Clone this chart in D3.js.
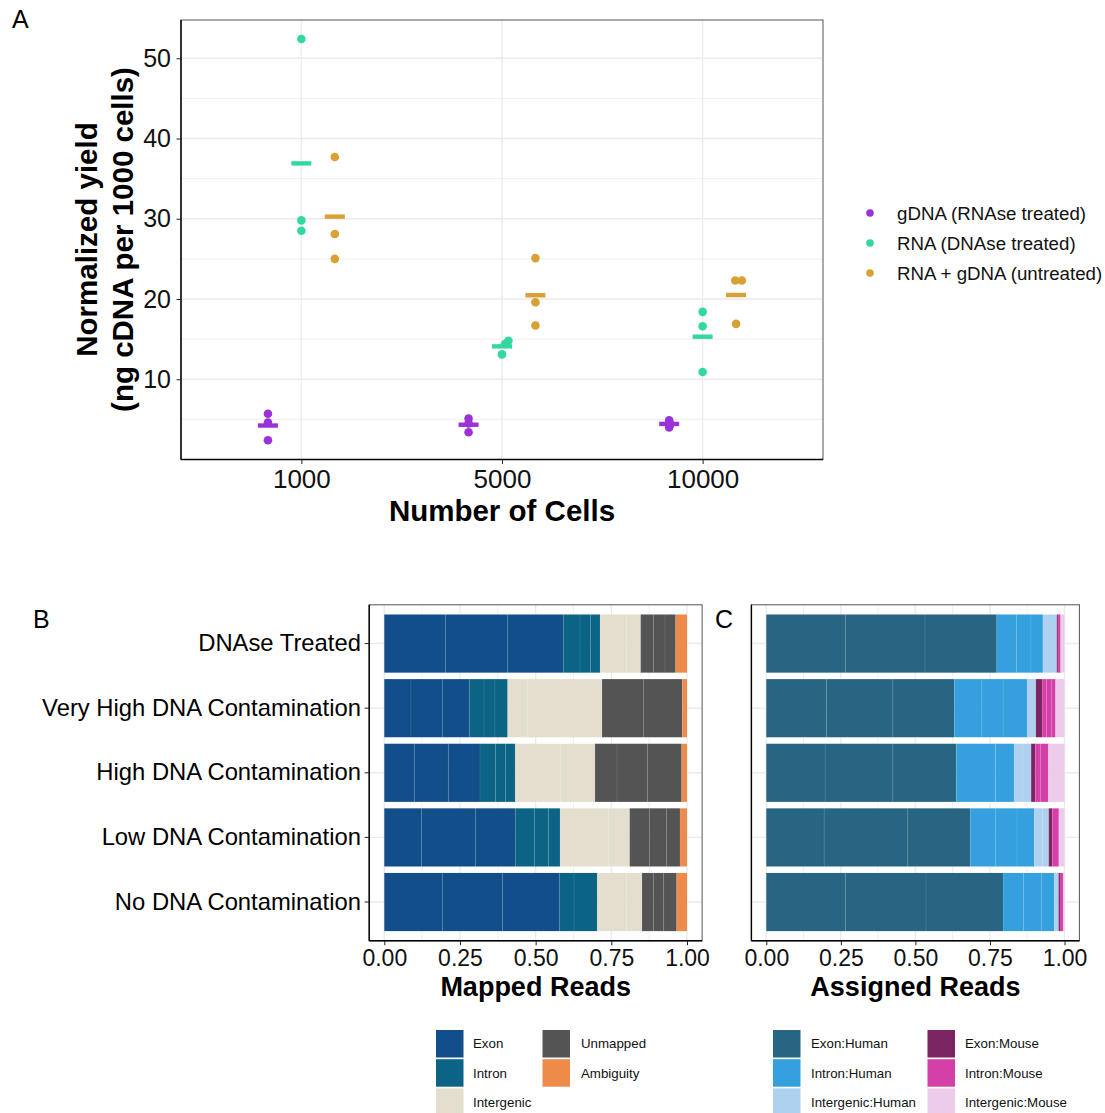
<!DOCTYPE html>
<html><head><meta charset="utf-8">
<script src="https://cdn.jsdelivr.net/npm/d3@7"></script>
<style>body{margin:0;background:#fff}svg{display:block}text{font-family:"Liberation Sans",Arial,Helvetica,sans-serif}</style>
</head><body><svg id="c" width="1105" height="1113"></svg>
<script>
// ---------- DATA: Panel A ----------
const cells = ["1000", "5000", "10000"];
const groups = ["gDNA (RNAse treated)", "RNA (DNAse treated)", "RNA + gDNA (untreated)"];
const groupColors = ["#9B32D9", "#33D8A0", "#D9A134"];
const yieldGDNA = [[5.7, 4.6, 2.4], [5.1, 4.5, 3.4], [4.9, 4.4, 4.0]];
const yieldRNA = [[52.4, 29.8, 28.5], [13.1, 14.4, 14.8], [18.4, 16.6, 10.9]];
const yieldMix = [[37.7, 28.1, 25.0], [25.1, 19.6, 16.7], [22.3, 22.3, 16.9]];
// horizontal jitter of replicate points (in category units)
const jitterGDNA = [[0, 0, 0], [0, 0, 0], [0, 0.006, 0]];
const jitterRNA = [[0, 0, 0], [0, 0.015, 0.032], [0, 0, 0]];
const jitterMix = [[0, 0, 0], [0, 0, 0], [-0.004, 0.029, 0]];
const yTicksA = [10, 20, 30, 40, 50];
const yMinorA = [5, 15, 25, 35, 45];

// ---------- DATA: Panels B & C ----------
const conditions = ["DNAse Treated", "Very High DNA Contamination", "High DNA Contamination", "Low DNA Contamination", "No DNA Contamination"];
const mappedCats = ["Exon", "Intron", "Intergenic", "Unmapped", "Ambiguity"];
const mappedColors = ["#124E89", "#0B6485", "#E3DECE", "#545454", "#EE8B4B"];
// each entry: per condition, replicate fractions of the mapped reads
const mappedExon = [[.2026, .2049, .1839], [.0881, .1035, .0892], [.0991, .1124, .1046], [.1233, .1774, .1321], [.1916, .1994, .1872]];
const mappedIntron = [[.0551, .0352, .0309], [.0485, .0363, .0419], [.0517, .0331, .0319], [.0628, .0473, .0375], [.0485, .0770]];
const mappedIntergenic = [[.0881, .0462], [.0661, .1101, .1355], [.0716, .0782, .1134], [.1597, .0705], [.0970, .0506]];
const mappedUnmapped = [[.0419, .0385, .0353], [.1376, .1278], [.0727, .1003, .1134], [.0650, .0572, .0441], [.0375, .0341, .0430]];
const mappedAmbiguity = [[.0374], [.0154], [.0176], [.0231], [.0341]];

const assignedCats = ["Exon:Human", "Intron:Human", "Intergenic:Human", "Exon:Mouse", "Intron:Mouse", "Intergenic:Mouse"];
const assignedColors = ["#286582", "#34A0DD", "#AED1F0", "#7A2462", "#D440A8", "#EDCBEA"];
const asgExonHuman = [[.2650, .2673, .2405], [.2016, .2227, .2060], [.1971, .2272, .2127], [.1938, .2806, .2093], [.2650, .2706, .2584]];
const asgIntronHuman = [[.0657, .0490, .0401], [.0924, .0713, .0802], [.1314, .0623], [.0858, .0713, .0582], [.0679, .0601, .0440]];
const asgIntergenicHuman = [[.0464], [.0298], [.0301, .0272], [.0264, .0216], [.0140]];
const asgExonMouse = [[.004], [.021], [.014], [.012], [.005]];
const asgIntronMouse = [[.009], [.015, .017, .013], [.018, .026], [.022], [.010]];
const asgIntergenicMouse = [[.013], [.030], [.054], [.019], [.005]];
const xTicksBC = [0, 0.25, 0.5, 0.75, 1];

// ---------- DRAW ----------
const svg = d3.select("#c");
const GRID = "#EBEBEB";

function panelFrame(l, r, t, b) {
  svg.append("rect").attr("x", l).attr("y", t).attr("width", r - l).attr("height", b - t)
    .attr("fill", "none").attr("stroke", "#555").attr("stroke-width", 1);
  svg.append("line").attr("x1", l).attr("x2", l).attr("y1", t).attr("y2", b).attr("stroke", "#000").attr("stroke-width", 1.4);
  svg.append("line").attr("x1", l).attr("x2", r).attr("y1", b).attr("y2", b).attr("stroke", "#000").attr("stroke-width", 1.4);
}
function styleAxis(g, size) {
  g.select(".domain").remove();
  g.selectAll(".tick line").attr("stroke", "#222").attr("stroke-width", 1);
  g.selectAll(".tick text").attr("fill", "#111").style("font-size", size + "px")
    .style("font-family", '"Liberation Sans", Arial, Helvetica, sans-serif');
}

// ----- Panel A -----
const aL = 181, aR = 823, aT = 20, aB = 459.5;
const xA = d3.scalePoint().domain(cells).range([aL, aR]).padding(0.6);
const yA = d3.scaleLinear().domain([0, 54.77]).range([aB, aT]);
const stepA = xA.step();
const dodge = [-1 / 6, 0, 1 / 6];

yMinorA.forEach(v => svg.append("line").attr("x1", aL).attr("x2", aR).attr("y1", yA(v)).attr("y2", yA(v)).attr("stroke", GRID).attr("stroke-width", 0.8));
yTicksA.forEach(v => svg.append("line").attr("x1", aL).attr("x2", aR).attr("y1", yA(v)).attr("y2", yA(v)).attr("stroke", GRID).attr("stroke-width", 1.4));
cells.forEach(c => svg.append("line").attr("x1", xA(c)).attr("x2", xA(c)).attr("y1", aT).attr("y2", aB).attr("stroke", GRID).attr("stroke-width", 1.4));

const seriesA = [yieldGDNA, yieldRNA, yieldMix];
const jitA = [jitterGDNA, jitterRNA, jitterMix];
const pts = [], means = [];
seriesA.forEach((ser, gi) => {
  ser.forEach((vals, ci) => {
    const cx = xA(cells[ci]) + dodge[gi] * stepA;
    vals.forEach((v, k) => pts.push({x: cx + jitA[gi][ci][k] * stepA, y: yA(v), color: groupColors[gi]}));
    means.push({x: cx, y: yA(d3.mean(vals)), color: groupColors[gi]});
  });
});
svg.append("g").selectAll("circle").data(pts).join("circle")
  .attr("cx", d => d.x).attr("cy", d => d.y).attr("r", 4.3).attr("fill", d => d.color);
svg.append("g").selectAll("rect").data(means).join("rect")
  .attr("x", d => d.x - 10).attr("y", d => d.y - 2.2).attr("width", 20).attr("height", 4.4).attr("fill", d => d.color);

panelFrame(aL, aR, aT, aB);
const gAy = svg.append("g").attr("transform", `translate(${aL},0)`)
  .call(d3.axisLeft(yA).tickValues(yTicksA).tickSize(4.5).tickPadding(5.5));
styleAxis(gAy, 25);
const gAx = svg.append("g").attr("transform", `translate(0,${aB})`)
  .call(d3.axisBottom(xA).tickSize(4.5).tickPadding(5.5));
styleAxis(gAx, 26);

svg.append("text").attr("x", 12).attr("y", 28).style("font-size", "25px").text("A");
svg.append("text").attr("x", 502).attr("y", 521).attr("text-anchor", "middle")
  .style("font-size", "29.5px").style("font-weight", "bold").text("Number of Cells");
const yt = svg.append("text").attr("transform", "translate(97,239.5) rotate(-90)").attr("text-anchor", "middle")
  .style("font-size", "29.5px").style("font-weight", "bold");
yt.append("tspan").attr("x", 0).attr("y", 0).text("Normalized yield");
yt.append("tspan").attr("x", 0).attr("y", 36).text("(ng cDNA per 1000 cells)");

// legend A
const legA = svg.append("g");
groups.forEach((g, i) => {
  const y = 213 + i * 30;
  legA.append("circle").attr("cx", 870).attr("cy", y).attr("r", 3.8).attr("fill", groupColors[i]);
  legA.append("text").attr("x", 897).attr("y", y).attr("dy", "0.35em").style("font-size", "18.7px").attr("fill", "#111").text(g);
});

// ----- Panels B and C -----
const bcT = 604.8, bcB = 940.8;
const yBC = d3.scaleBand().domain(conditions).range([bcT, bcB]).paddingInner(0.1).paddingOuter(0.15);

function stackPanel(cfg) {
  const {l, r, x0, x1, cats, colors, series, showY, title, label, labelX} = cfg;
  const x = d3.scaleLinear().domain([0, 1]).range([x0, x1]);
  // grid
  d3.range(0, 1.0001, 0.125).forEach(v => {
    const major = Math.abs(v * 4 - Math.round(v * 4)) < 1e-6;
    svg.append("line").attr("x1", x(v)).attr("x2", x(v)).attr("y1", bcT).attr("y2", bcB)
      .attr("stroke", GRID).attr("stroke-width", major ? 1.4 : 0.8);
  });
  conditions.forEach(c => {
    const yc = yBC(c) + yBC.bandwidth() / 2;
    svg.append("line").attr("x1", l).attr("x2", r).attr("y1", yc).attr("y2", yc).attr("stroke", GRID).attr("stroke-width", 1.4);
  });
  // segments
  const segs = [];
  conditions.forEach((c, ri) => {
    const total = d3.sum(series, s => d3.sum(s[ri]));
    let cum = 0;
    series.forEach((s, ci) => {
      s[ri].forEach(v => {
        segs.push({c, a: cum / total, b: (cum + v) / total, color: colors[ci]});
        cum += v;
      });
    });
  });
  svg.append("g").selectAll("rect").data(segs).join("rect")
    .attr("x", d => x(d.a)).attr("width", d => x(d.b) - x(d.a))
    .attr("y", d => yBC(d.c)).attr("height", yBC.bandwidth()).attr("fill", d => d.color);
  svg.append("g").selectAll("line").data(segs.filter(d => d.a > 0)).join("line")
    .attr("x1", d => x(d.a)).attr("x2", d => x(d.a))
    .attr("y1", d => yBC(d.c)).attr("y2", d => yBC(d.c) + yBC.bandwidth())
    .attr("stroke", "#fff").attr("stroke-opacity", 0.1).attr("stroke-width", 1);

  panelFrame(l, r, bcT, bcB);
  const gx = svg.append("g").attr("transform", `translate(0,${bcB})`)
    .call(d3.axisBottom(x).tickValues(xTicksBC).tickFormat(d3.format(".2f")).tickSize(4.5).tickPadding(4.5));
  styleAxis(gx, 23);
  if (showY) {
    const gy = svg.append("g").attr("transform", `translate(${l},0)`)
      .call(d3.axisLeft(yBC).tickSize(4.5).tickPadding(3.8));
    styleAxis(gy, 23.8);
    gy.selectAll(".tick text").attr("fill", "#000");
  }
  svg.append("text").attr("x", (l + r) / 2).attr("y", 996).attr("text-anchor", "middle")
    .style("font-size", "27px").style("font-weight", "bold").text(title);
  svg.append("text").attr("x", labelX).attr("y", 628).style("font-size", "25px").text(label);
}

stackPanel({l: 369.2, r: 702.1, x0: 384.3, x1: 687, cats: mappedCats, colors: mappedColors,
  series: [mappedExon, mappedIntron, mappedIntergenic, mappedUnmapped, mappedAmbiguity],
  showY: true, title: "Mapped Reads", label: "B", labelX: 33});
stackPanel({l: 751.4, r: 1079.4, x0: 766.3, x1: 1064.5, cats: assignedCats, colors: assignedColors,
  series: [asgExonHuman, asgIntronHuman, asgIntergenicHuman, asgExonMouse, asgIntronMouse, asgIntergenicMouse],
  showY: false, title: "Assigned Reads", label: "C", labelX: 715});

// legends B, C
function swatchLegend(cats, colors, cols) {
  cats.forEach((c, i) => {
    const col = Math.floor(i / 3), row = i % 3;
    const sx = cols[col][0], tx = cols[col][1];
    const y = 1030 + row * 29.2;
    svg.append("rect").attr("x", sx).attr("y", y).attr("width", 27.5).attr("height", 27.5).attr("fill", colors[i]);
    svg.append("text").attr("x", tx).attr("y", y + 13.8).attr("dy", "0.35em").style("font-size", "13.3px").attr("fill", "#111").text(c);
  });
}
swatchLegend(mappedCats, mappedColors, [[436, 473], [542.5, 581]]);
swatchLegend(assignedCats, assignedColors, [[773, 811], [927.5, 965]]);
</script></body></html>
